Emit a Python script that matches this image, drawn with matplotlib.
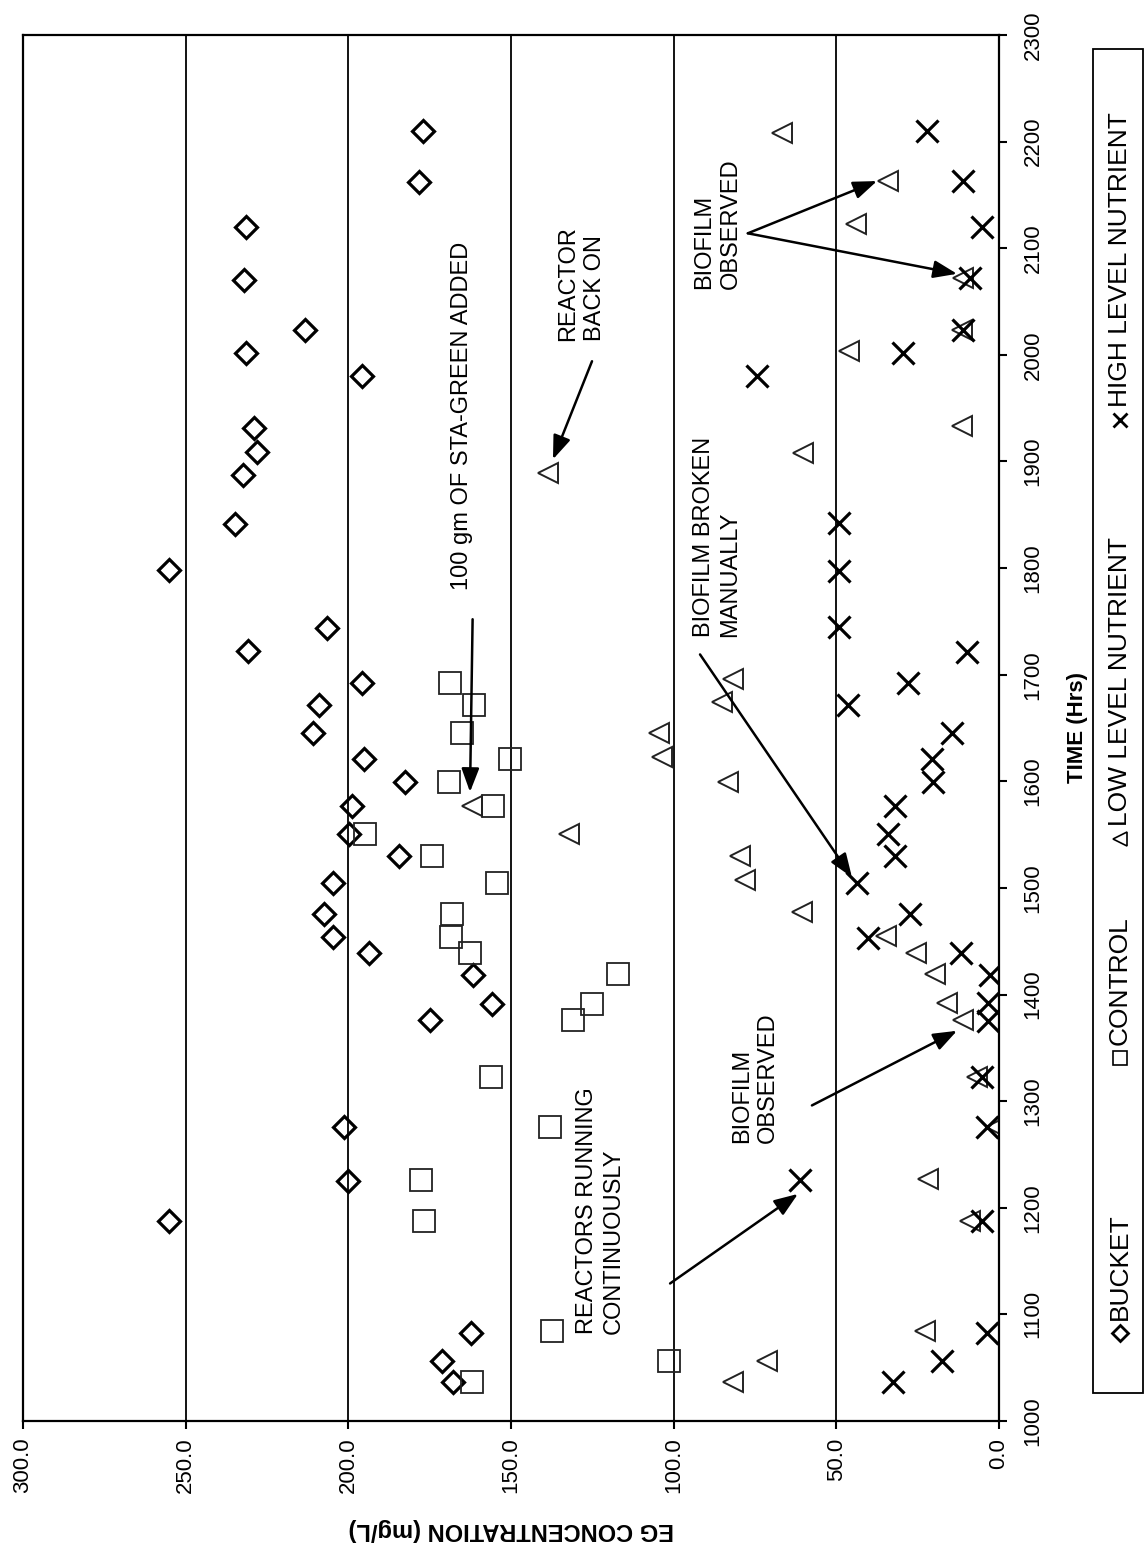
import matplotlib
matplotlib.use("Agg")
import matplotlib.pyplot as plt
from matplotlib.lines import Line2D
from matplotlib.patches import Rectangle

plt.rcParams['font.family'] = ['Liberation Sans', 'DejaVu Sans']

# EG concentration (mg/L) against time (hrs) for each reactor
bucket_t = [1037, 1056, 1083, 1188, 1225, 1276, 1376, 1391, 1418, 1439, 1454, 1476,
            1505, 1530, 1551, 1577, 1599, 1621, 1645, 1672, 1692, 1722, 1744, 1798,
            1841, 1887, 1909, 1931, 1980, 2002, 2023, 2070, 2120, 2162, 2210]
bucket_c = [167.8, 171.2, 162.3, 255.2, 200.1, 201.4, 174.9, 155.9, 161.7, 193.7, 204.7, 207.5,
            204.7, 184.4, 199.8, 198.9, 182.6, 195.2, 210.9, 209.0, 195.8, 230.9, 206.6, 255.2,
            234.9, 232.4, 228.0, 229.0, 195.8, 231.5, 213.3, 232.1, 231.5, 178.3, 177.1]

control_t = [1037, 1056, 1084, 1188, 1226, 1276, 1323, 1376, 1391, 1419, 1439, 1454,
             1476, 1505, 1530, 1551, 1577, 1599, 1621, 1645, 1672, 1692]
control_c = [162.0, 101.4, 137.4, 176.8, 177.7, 138.0, 156.2, 131.0, 125.1, 117.2, 162.6, 168.5,
             168.2, 154.3, 174.3, 194.9, 155.5, 169.1, 150.3, 165.1, 161.4, 168.8]

low_t = [1037, 1056, 1084, 1188, 1227, 1276, 1323, 1376, 1392, 1419, 1439, 1455,
         1477, 1507, 1530, 1551, 1577, 1599, 1623, 1645, 1674, 1696, 1889, 1908,
         1933, 2004, 2023, 2072, 2123, 2163, 2208]
low_c = [81.8, 71.3, 22.7, 8.9, 21.8, 1.0, 6.8, 11.0, 16.0, 19.7, 25.5, 34.7,
         60.6, 78.1, 79.6, 132.2, 162.0, 83.3, 103.6, 104.5, 85.0, 81.8, 138.6, 60.3,
         11.4, 46.1, 11.4, 11.0, 44.0, 34.1, 66.7]

high_t = [1037, 1056, 1083, 1188, 1226, 1276, 1323, 1375, 1392, 1418, 1439, 1453,
          1476, 1505, 1530, 1551, 1577, 1599, 1621, 1645, 1672, 1692, 1721, 1745,
          1797, 1842, 1980, 2002, 2023, 2072, 2120, 2163, 2210]
high_c = [32.6, 17.5, 3.7, 5.2, 61.2, 3.7, 5.2, 3.4, 3.4, 2.8, 11.7, 40.3,
          27.4, 43.7, 32.0, 34.1, 32.0, 20.3, 20.5, 14.4, 46.4, 28.0, 9.8, 49.2,
          49.2, 49.2, 74.4, 29.5, 11.0, 8.9, 5.2, 11.0, 22.1]

conc_ticks = [0, 50, 100, 150, 200, 250, 300]
time_ticks = list(range(1000, 2400, 100))

legend_names = ['BUCKET', 'CONTROL', 'LOW LEVEL NUTRIENT', 'HIGH LEVEL NUTRIENT']

# notes: (text, text position (conc, time), arrow tails, arrow heads)
notes = [
    ('100 gm OF STA-GREEN ADDED', (165.1, 1943), [(161.8, 1752)], [(162.6, 1590)]),
    ('REACTOR\nBACK ON', (128.3, 2013), [(125.1, 1994)], [(137.1, 1902)]),
    ('BIOFILM\nOBSERVED', (86.5, 2062), [(77.2, 2114), (77.2, 2114)], [(37.5, 2163), (12.9, 2076)]),
    ('BIOFILM BROKEN\nMANUALLY', (86.7, 1735), [(91.9, 1719)], [(45.2, 1510)]),
    ('REACTORS RUNNING\nCONTINUOUSLY', (122.5, 1082), [(101.1, 1129)], [(61.8, 1213)]),
    ('BIOFILM\nOBSERVED', (75.0, 1261), [(57.5, 1296)], [(12.9, 1366)]),
]

W, H = 1144, 1545
fig = plt.figure(figsize=(W / 100, H / 100), dpi=100)
fig.patch.set_facecolor('white')


def fx(x):
    return x / W


def fy(y):
    return 1 - y / H


ax = fig.add_axes([fx(23), fy(1421), (999 - 23) / W, (1421 - 35) / H])

ax.plot(bucket_c, bucket_t, linestyle='none', marker='D', ms=11.5, mfc='none', mec='k', mew=2.3)
ax.plot(control_c, control_t, linestyle='none', marker='s', ms=16, mfc='none', mec='#222222', mew=1.3)
ax.plot(low_c, low_t, linestyle='none', marker='<', ms=15, mfc='none', mec='#222222', mew=1.4)
ax.plot(high_c, high_t, linestyle='none', marker='x', ms=16, mec='k', mew=2.3)

ax.set_xlim(300, 0)
ax.set_ylim(1000, 2300)
ax.set_xticks(conc_ticks)
ax.set_xticklabels([f'{v:.1f}' for v in conc_ticks])
ax.set_yticks(time_ticks)
ax.yaxis.tick_right()
ax.grid(axis='x', color='k', lw=1.3)
ax.grid(axis='y', visible=False)
for s in ax.spines.values():
    s.set_linewidth(1.6)

ax.tick_params(axis='x', direction='out', length=6, width=1.5, pad=6, labelsize=16, labelrotation=90)
ax.tick_params(axis='y', direction='out', length=6, width=1.5, pad=11, labelsize=16, labelrotation=90)
for lbl in ax.get_yticklabels():
    lbl.set_va('center')

ax.set_xlabel('EG CONCENTRATION (mg/L)', fontsize=17, fontweight='bold', rotation=180)
ax.xaxis.set_label_coords(0.5, -(1530 - 1421) / (1421 - 35))
ax.xaxis.label.set_va('center')
ax.yaxis.set_label_position('right')
ax.set_ylabel('TIME (Hrs)', fontsize=16, fontweight='bold', rotation=90)
ax.yaxis.set_label_coords((1077 - 23) / (999 - 23), 0.5)
ax.yaxis.label.set_va('center')
ax.yaxis.label.set_ha('center')

for text, (cx, cy), tails, heads in notes:
    ax.text(cx, cy, text, rotation=90, rotation_mode='anchor', ha='left' if '\n' in text else 'center',
            va='center', fontsize=17, linespacing=1.25, multialignment='left')
    for tail, head in zip(tails, heads):
        ax.annotate('', xy=head, xytext=tail,
                    arrowprops=dict(arrowstyle='-|>,head_length=0.8,head_width=0.3',
                                    mutation_scale=18, lw=1.8, color='k',
                                    shrinkA=0, shrinkB=0))

# legend box drawn by hand so its text can run vertically
fig.add_artist(Rectangle((fx(1093), fy(1393)), (1143 - 1093) / W, (1393 - 49) / H,
                         transform=fig.transFigure, fill=False, ec='k', lw=1.3))
legend_marks = [('D', 8, 2.0), ('s', 10, 1.2), ('<', 10, 1.2), ('x', 10, 2.0)]
legend_pos = [1333, 1058, 839, 420]
for name, (m, size, ew), ypos in zip(legend_names, legend_marks, legend_pos):
    fig.add_artist(Line2D([fx(1120)], [fy(ypos)], transform=fig.transFigure, marker=m,
                          ms=size, mfc='none', mec='k', mew=ew, linestyle='none'))
    fig.text(fx(1127), fy(ypos - 13), name, rotation=90, rotation_mode='anchor',
             ha='left', va='baseline', fontsize=19)

fig.savefig('out.png', dpi=100, facecolor='white')
